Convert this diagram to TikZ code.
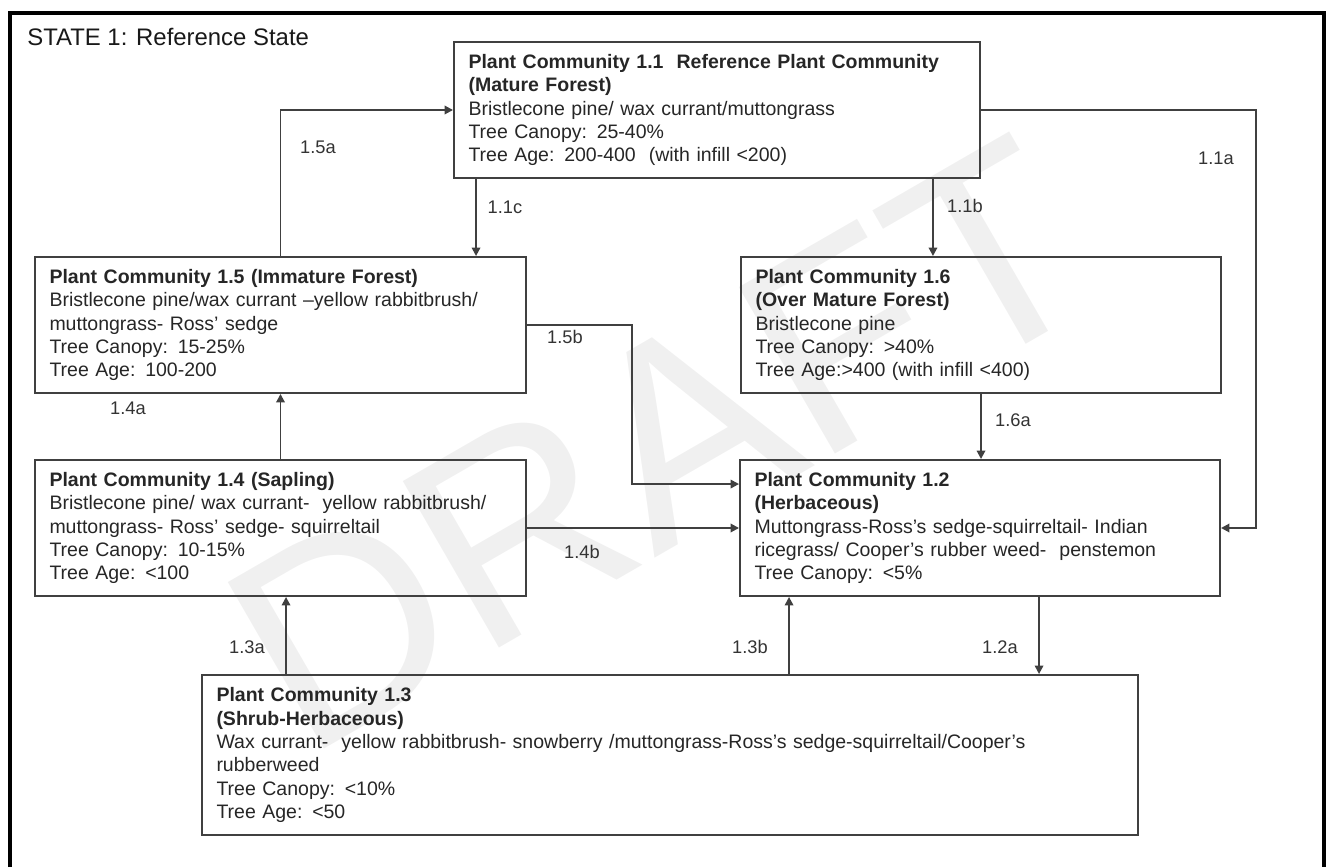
\documentclass[tikz,border=0pt]{standalone}
\usepackage{fontspec}
\setmainfont{Liberation Sans}
\usetikzlibrary{positioning}
\usetikzlibrary{arrows.meta}
\tikzset{
    pcnode/.style = {rectangle, draw=black!75, line width=1.1pt, align=left, inner xsep=0.29cm, inner ysep=0pt, text=black!85, font=\fontsize{11.1}{13.26}\selectfont},
    edgen/.style = {-{Triangle[length=4.8pt,width=4.8pt]}, line width=1.1pt, draw=black!75},
    lbl/.style = {text=black!80, inner sep=0pt, font=\fontsize{10.4}{12}\selectfont},
    frame/.style = {line width=2.3pt, draw=black},
    wmark/.style = {text=black!6, rotate=30, inner sep=0pt, font=\fontsize{159}{160}\selectfont}
}
\newcommand{\PC}[1]{\textbf{#1}}

\begin{document}
\begin{tikzpicture}
\useasboundingbox (0,0) rectangle (26.54,17.34);
\node[wmark] at (13.2, 8.45) (draft) {DRAFT};
\draw[frame] (0.2,0) -- (0.2,17.08) -- (26.48,17.08) -- (26.48,0);
\node[anchor=west, inner sep=0pt, text=black!90, font=\fontsize{13.6}{16}\selectfont] at (0.54, 16.6) (title) {STATE 1: Reference State};
%
\node[pcnode, text width=9.94cm, minimum height=2.72cm] at (14.34, 15.14) (pc11) {\PC{Plant Community 1.1\ \ Reference Plant Community}\\ \PC{(Mature Forest)}\\ Bristlecone pine/ wax currant/muttongrass\\ Tree Canopy: 25-40\%\\ Tree Age: 200-400\ \ (with infill <200)};
\node[pcnode, text width=9.24cm, minimum height=2.72cm] at (5.61, 10.84) (pc15) {\PC{Plant Community 1.5 (Immature Forest)}\\ Bristlecone pine/wax currant\ --yellow rabbitbrush/\\ muttongrass- Ross' sedge\\ Tree Canopy: 15-25\%\\ Tree Age: 100-200};
\node[pcnode, text width=9.02cm, minimum height=2.72cm] at (19.62, 10.84) (pc16) {\PC{Plant Community 1.6}\\ \PC{(Over Mature Forest)}\\ Bristlecone pine\\ Tree Canopy: >40\%\\ Tree Age:>400 (with infill <400)};
\node[pcnode, text width=9.24cm, minimum height=2.72cm] at (5.61, 6.78) (pc14) {\PC{Plant Community 1.4 (Sapling)}\\ Bristlecone pine/ wax currant-\ \ yellow rabbitbrush/\\ muttongrass- Ross' sedge- squirreltail\\ Tree Canopy: 10-15\%\\ Tree Age: <100};
\node[pcnode, text width=9.02cm, minimum height=2.72cm] at (19.6, 6.78) (pc12) {\PC{Plant Community 1.2}\\ \PC{(Herbaceous)}\\ Muttongrass-Ross's sedge-squirreltail- Indian\\ ricegrass/ Cooper's rubber weed-\ \ penstemon\\ Tree Canopy: <5\%};
\node[pcnode, text width=18.14cm, minimum height=3.2cm] at (13.4, 2.24) (pc13) {\PC{Plant Community 1.3}\\ \PC{(Shrub-Herbaceous)}\\ Wax currant-\ \ yellow rabbitbrush- snowberry /muttongrass-Ross's sedge-squirreltail/Cooper's\\ rubberweed\\ Tree Canopy: <10\%\\ Tree Age: <50};
%
\coordinate (t11c) at ([xshift=0.46cm]pc11.south west);
\coordinate (t11b) at ([xshift=-0.96cm]pc11.south east);
\coordinate (t11a) at ([xshift=0.7cm]pc12.east);
\coordinate (t15b) at ([xshift=2.1cm]pc15.east);
\coordinate (t15in) at ([yshift=-0.5cm]pc12.north west);
\coordinate (t13a) at ([xshift=1.7cm]pc13.north west);
\coordinate (t13b) at ([xshift=1cm]pc12.south west);
\coordinate (t12a) at ([xshift=6cm]pc12.south west);
%
\draw[edgen] (pc15.north) |- (pc11.west);
\draw[edgen] (t11c) -- (t11c |- pc15.north);
\draw[edgen] (t11b) -- (t11b |- pc16.north);
\draw[edgen] (pc11.east) -| (t11a) -- (pc12.east);
\draw[edgen] (pc15.east) -| (t15b |- t15in) -- (t15in);
\draw[edgen] (pc14.north) -- (pc15.south);
\draw[edgen] (pc14.east) -- (pc12.west);
\draw[edgen] (pc16.south) -- (pc16.south |- pc12.north);
\draw[edgen] (t13a) -- (t13a |- pc14.south);
\draw[edgen] (t13b |- pc13.north) -- (t13b);
\draw[edgen] (t12a) -- (t12a |- pc13.north);
%
\node[lbl] at (6.36, 14.4) (l15a) {1.5a};
\node[lbl] at (10.1, 13.2) (l11c) {1.1c};
\node[lbl] at (19.3, 13.22) (l11b) {1.1b};
\node[lbl] at (24.32, 14.18) (l11a) {1.1a};
\node[lbl] at (11.3, 10.6) (l15b) {1.5b};
\node[lbl] at (2.56, 9.18) (l14a) {1.4a};
\node[lbl] at (20.26, 8.94) (l16a) {1.6a};
\node[lbl] at (11.64, 6.3) (l14b) {1.4b};
\node[lbl] at (4.94, 4.4) (l13a) {1.3a};
\node[lbl] at (15.0, 4.4) (l13b) {1.3b};
\node[lbl] at (20.0, 4.4) (l12a) {1.2a};
\end{tikzpicture}
\end{document}
